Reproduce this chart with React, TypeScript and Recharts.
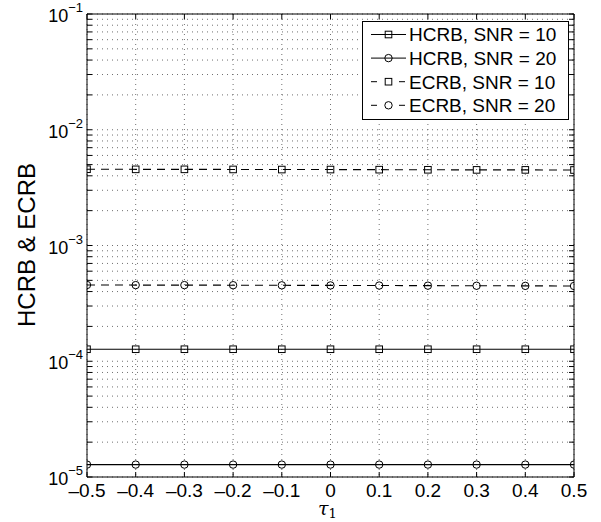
import React from "react"
import { LineChart, Line, XAxis, YAxis, CartesianGrid } from "recharts"

// tau_1 sample points
const tau = [-0.5, -0.4, -0.3, -0.2, -0.1, 0, 0.1, 0.2, 0.3, 0.4, 0.5]

// bounds
const hcrb10 = [1.27e-4, 1.27e-4, 1.27e-4, 1.27e-4, 1.27e-4, 1.27e-4, 1.27e-4, 1.27e-4, 1.27e-4, 1.27e-4, 1.27e-4]
const hcrb20 = [1.28e-5, 1.28e-5, 1.28e-5, 1.28e-5, 1.28e-5, 1.28e-5, 1.28e-5, 1.28e-5, 1.28e-5, 1.28e-5, 1.28e-5]
const ecrb10 = [4.56e-3, 4.55e-3, 4.55e-3, 4.54e-3, 4.53e-3, 4.53e-3, 4.52e-3, 4.51e-3, 4.5e-3, 4.5e-3, 4.49e-3]
const ecrb20 = [4.56e-4, 4.55e-4, 4.55e-4, 4.54e-4, 4.53e-4, 4.52e-4, 4.51e-4, 4.5e-4, 4.49e-4, 4.48e-4, 4.47e-4]

const xTicks = [-0.5, -0.4, -0.3, -0.2, -0.1, 0, 0.1, 0.2, 0.3, 0.4, 0.5]
const decades = [-5, -4, -3, -2, -1]
const minorSteps = [2, 3, 4, 5, 6, 7, 8, 9]

const yTicks: number[] = []
decades.forEach((e, i) => {
  yTicks.push(Math.pow(10, e))
  if (i < decades.length - 1) minorSteps.forEach((m) => yTicks.push(m * Math.pow(10, e)))
})

const data = tau.map((t, i) => ({
  tau: t,
  hcrb10: hcrb10[i],
  hcrb20: hcrb20[i],
  ecrb10: ecrb10[i],
  ecrb20: ecrb20[i],
}))

const series = [
  { key: "hcrb10", name: "HCRB, SNR = 10", marker: "square", dashed: false },
  { key: "hcrb20", name: "HCRB, SNR = 20", marker: "circle", dashed: false },
  { key: "ecrb10", name: "ECRB, SNR = 10", marker: "square", dashed: true },
  { key: "ecrb20", name: "ECRB, SNR = 20", marker: "circle", dashed: true },
]

const FONT = "'Liberation Sans', Arial, Helvetica, sans-serif"

const Marker = ({ cx, cy, shape }: any) => {
  if (cx == null || cy == null) return null
  if (shape === "square")
    return <rect x={cx - 3.3} y={cy - 3.3} width={6.6} height={6.6} fill="none" stroke="#000" strokeWidth={1} />
  return <circle cx={cx} cy={cy} r={3.7} fill="none" stroke="#000" strokeWidth={1} />
}

const fmtX = (v: number) => {
  if (Math.abs(v) < 1e-9) return "0"
  const s = Math.abs(v).toFixed(1)
  return v < 0 ? "\u2013" + s : s
}

const XTick = ({ x, y, payload }: any) => (
  <text x={x} y={y + 20} textAnchor="middle" fontFamily={FONT} fontSize={19} fill="#000">
    {fmtX(payload.value)}
  </text>
)

const YTick = ({ x, y, payload }: any) => {
  const e = Math.log10(payload.value)
  if (Math.abs(e - Math.round(e)) > 1e-6) return <g />
  return (
    <text x={x - 4} y={y + 8} textAnchor="end" fontFamily={FONT} fill="#000">
      <tspan fontSize={18}>10</tspan>
      <tspan fontSize={13} dy={-10}>{"\u2212" + Math.abs(Math.round(e))}</tspan>
    </text>
  )
}

const Blank = () => <g />

// legend drawn straight into the chart svg so it reserves no space
const LegendBox = () => (
  <g transform="translate(362 21)">
    <rect x={0.5} y={0.5} width={206} height={98} fill="#fff" stroke="#000" strokeWidth={1} />
    {series.map((s, i) => {
      const cy = 13.5 + i * 23.6
      return (
        <g key={s.key}>
          {s.dashed ? (
            <>
              <line x1={9} x2={15} y1={cy} y2={cy} stroke="#000" strokeWidth={1} />
              <line x1={37} x2={43} y1={cy} y2={cy} stroke="#000" strokeWidth={1} />
            </>
          ) : (
            <line x1={9} x2={44} y1={cy} y2={cy} stroke="#000" strokeWidth={1} />
          )}
          <Marker cx={26.5} cy={cy} shape={s.marker} />
          <text x={47} y={cy + 6.8} fontFamily={FONT} fontSize={19} fill="#000">
            {s.name}
          </text>
        </g>
      )
    })}
  </g>
)

export default function App() {
  return (
    <div style={{ position: "absolute", left: 0, top: 0, width: 601, height: 522, background: "#fff" }}>
      <LineChart width={601} height={522} data={data} margin={{ top: 4, right: 17, bottom: 15, left: 27 }}>
        <CartesianGrid
          xAxisId="b"
          yAxisId="l"
          stroke="#707070"
          strokeDasharray="1 4"
          strokeWidth={1}
        />
        <XAxis
          xAxisId="b"
          dataKey="tau"
          type="number"
          domain={[-0.5, 0.5]}
          ticks={xTicks}
          interval={0}
          height={30}
          tickSize={-5}
          tickMargin={5}
          tick={<XTick />}
          axisLine={{ stroke: "#000" }}
          tickLine={{ stroke: "#000" }}
          allowDataOverflow
        />
        <XAxis
          xAxisId="t"
          dataKey="tau"
          type="number"
          orientation="top"
          domain={[-0.5, 0.5]}
          ticks={xTicks}
          interval={0}
          height={10}
          tickSize={-5}
          tick={<Blank />}
          axisLine={{ stroke: "#000" }}
          tickLine={{ stroke: "#000" }}
          allowDataOverflow
        />
        <YAxis
          yAxisId="l"
          type="number"
          scale="log"
          domain={[1e-5, 1e-1]}
          ticks={yTicks}
          interval={0}
          width={60}
          tickSize={-5}
          tickMargin={5}
          tick={<YTick />}
          axisLine={{ stroke: "#000" }}
          tickLine={{ stroke: "#000" }}
          allowDataOverflow
        />
        <YAxis
          yAxisId="r"
          type="number"
          orientation="right"
          scale="log"
          domain={[1e-5, 1e-1]}
          ticks={yTicks}
          interval={0}
          width={10}
          tickSize={-5}
          tick={<Blank />}
          axisLine={{ stroke: "#000" }}
          tickLine={{ stroke: "#000" }}
          allowDataOverflow
        />
        {series.map((s) => (
          <Line
            key={s.key}
            xAxisId="b"
            yAxisId="l"
            dataKey={s.key}
            name={s.name}
            type="linear"
            stroke="#000"
            strokeWidth={1.1}
            strokeDasharray={s.dashed ? "8 6" : undefined}
            dot={(p: any) => <Marker key={p.index} cx={p.cx} cy={p.cy} shape={s.marker} />}
            activeDot={false}
            isAnimationActive={false}
          />
        ))}
        <LegendBox />
        <text
          x={35}
          y={245}
          transform="rotate(-90 35 245)"
          textAnchor="middle"
          fontFamily={FONT}
          fontSize={24}
          fill="#000"
        >
          HCRB &amp; ECRB
        </text>
        <text x={318} y={515} fontFamily="'DejaVu Serif', 'Liberation Serif', serif" fontStyle="italic" fontSize={19} fill="#000">
          τ
          <tspan fontStyle="normal" fontSize={13} dy={3}>
            1
          </tspan>
        </text>
      </LineChart>
    </div>
  )
}
